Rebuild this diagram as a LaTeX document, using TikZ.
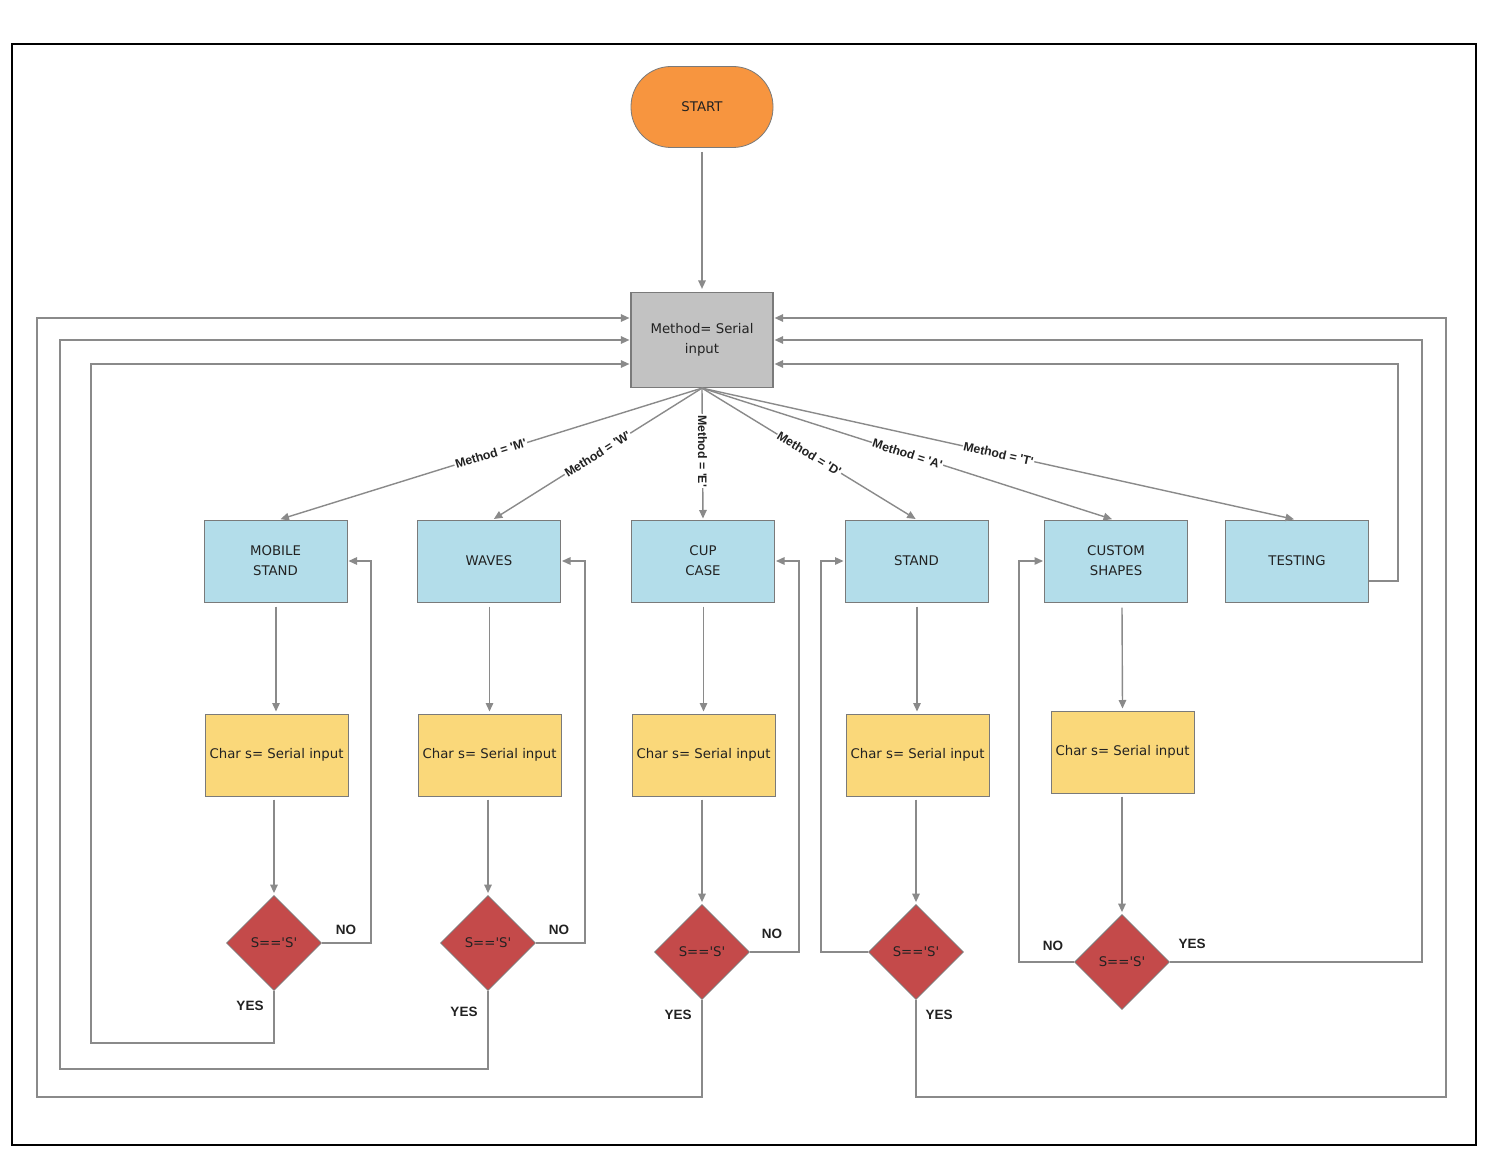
\documentclass[tikz,border=0pt]{standalone}
\usepackage{fontspec}
\setmainfont{DejaVu Sans}
\newfontfamily\labfont{Liberation Sans}
\usetikzlibrary{arrows.meta,shapes.geometric,calc}
\definecolor{linegray}{HTML}{8A8A8A}
\definecolor{bordergray}{HTML}{7A7A7A}
\definecolor{startor}{HTML}{F7953F}
\definecolor{boxgray}{HTML}{C2C2C2}
\definecolor{boxblue}{HTML}{B3DDEA}
\definecolor{boxyel}{HTML}{FAD87A}
\definecolor{decred}{HTML}{C44A4A}
\definecolor{txt}{HTML}{222222}
\newcommand{\sq}{\textquotesingle}
\begin{document}
\begin{tikzpicture}[x=1pt,y=-1pt,
  every node/.style={text=txt, font=\fontsize{13.3}{20}\selectfont, align=center},
  conn/.style={draw=linegray, line width=1.4pt},
  arr/.style={conn, -{Triangle[length=8.5pt,width=7.5pt]}, shorten >=1pt},
  startbox/.style={draw=bordergray, line width=0.8pt, fill=startor, minimum width=142pt, minimum height=81pt, rounded corners=40pt},
  procbox/.style={draw=bordergray, line width=1.2pt, fill=boxgray, minimum width=142pt, minimum height=95pt},
  bluebox/.style={draw=bordergray, line width=1pt, fill=boxblue, minimum width=143pt, minimum height=82pt, inner sep=2pt},
  yelbox/.style={draw=bordergray, line width=1pt, fill=boxyel, minimum width=143pt, minimum height=82pt, inner sep=1pt},
  decbox/.style={diamond, aspect=1, draw=bordergray, line width=0.8pt, fill=decred, minimum width=95pt, minimum height=95pt, inner sep=0pt},
  mlab/.style={font=\labfont\bfseries\fontsize{12.3}{14}\selectfont, fill=white, inner sep=1pt, text=txt},
  yn/.style={font=\labfont\bfseries\fontsize{13.5}{15}\selectfont, text=txt, inner sep=0pt}
]
\useasboundingbox (0,0) rectangle (1512,1174);
\fill[white] (0,0) rectangle (1512,1174);
\draw[line width=1.8pt, black] (12,44) rectangle (1476,1145);

\node[startbox] (start) at (702,107) {START};
\node[procbox] (method) at (702,340) {Method= Serial\\input};

\node[bluebox] (mobile) at (275.5,561) {MOBILE\\STAND};
\node[bluebox] (waves) at (489,561) {WAVES};
\node[bluebox] (cup) at (703,561) {CUP\\CASE};
\node[bluebox] (stand) at (916.5,561) {STAND};
\node[bluebox] (custom) at (1116,561) {CUSTOM\\SHAPES};
\node[bluebox] (testing) at (1297,561) {TESTING};

\node[yelbox] (c1) at (276.5,755) {Char s= Serial input};
\node[yelbox] (c2) at (489.5,755) {Char s= Serial input};
\node[yelbox] (c3) at (703.5,755) {Char s= Serial input};
\node[yelbox] (c4) at (917.5,755) {Char s= Serial input};
\node[yelbox] (c5) at (1122.5,752) {Char s= Serial input};

\node[decbox] (d1) at (274,943) {S==\sq S\sq};
\node[decbox] (d2) at (488,943) {S==\sq S\sq};
\node[decbox] (d3) at (702,952) {S==\sq S\sq};
\node[decbox] (d4) at (916,952) {S==\sq S\sq};
\node[decbox] (d5) at (1122,962) {S==\sq S\sq};

\coordinate (mL1) at ($(method.west)+(0,-22)$);
\coordinate (mL2) at (method.west);
\coordinate (mL3) at ($(method.west)+(0,24)$);
\coordinate (mR1) at ($(method.east)+(0,-22)$);
\coordinate (mR2) at (method.east);
\coordinate (mR3) at ($(method.east)+(0,24)$);

% start to method
\draw[arr] ($(start.south)+(0,4)$) -- ($(method.north)+(0,-2)$);

% fan
\draw[arr] (method.south) -- ($(mobile.north)+(4,0)$) node[mlab, midway, sloped] {Method = 'M'};
\draw[arr] (method.south) -- ($(waves.north)+(4,0)$) node[mlab, midway, sloped] {Method = 'W'};
\draw[arr] (method.south) -- (cup.north) node[mlab, pos=0.48, rotate=-90] {Method = 'E'};
\draw[arr] (method.south) -- (stand.north) node[mlab, midway, sloped] {Method = 'D'};
\draw[arr] (method.south) -- ($(custom.north)+(-3,0)$) node[mlab, midway, sloped] {Method = 'A'};
\draw[arr] (method.south) -- ($(testing.north)+(-2,0)$) node[mlab, midway, sloped] {Method = 'T'};

% blue to yellow
\foreach \b/\c in {mobile/c1, waves/c2, cup/c3, stand/c4} {
  \draw[arr] ($(\b.south)+(0.5,4)$) -- ($(\c.north -| \b.south)+(0.5,-1)$);
}
\draw[arr] ($(custom.south)+(6,5)$) -- ($(c5.north)+(0,-1)$);

% yellow to diamond
\foreach \c/\d in {c1/d1, c2/d2, c3/d3, c4/d4, c5/d5} {
  \draw[arr] ($(\c.south -| \d.north)+(0,3)$) -- ($(\d.north)+(0,-1)$);
}

% NO loops
\draw[arr] (d1.east) -- ++(49,0) |- (mobile.east);
\draw[arr] (d2.east) -- ++(49,0) |- (waves.east);
\draw[arr] (d3.east) -- ++(49,0) |- (cup.east);
\draw[arr] (d4.west) -- ++(-47,0) |- (stand.west);
\draw[arr] (d5.west) -- ++(-55,0) |- (custom.west);

\node[yn] (no1) at (346,930) {NO};
\node[yn] (no2) at (559,930) {NO};
\node[yn] (no3) at (772,934) {NO};
\node[yn] (no5) at (1053,946) {NO};

% YES paths
\draw[arr] (d1.south) |- (91,1043) |- (mL3);
\draw[arr] (d2.south) |- (60,1069) |- (mL2);
\draw[arr] (d3.south) |- (37,1097) |- (mL1);
\draw[arr] (d4.south) |- (1446,1097) |- (mR1);
\draw[arr] (d5.east) -- (1422,962) |- (mR2);
\draw[arr] ($(testing.east)+(0,20)$) -- (1398,581) |- (mR3);

\node[yn] (yes1) at (250,1006) {YES};
\node[yn] (yes2) at (464,1012) {YES};
\node[yn] (yes3) at (678,1015) {YES};
\node[yn] (yes4) at (939,1015) {YES};
\node[yn] (yes5) at (1192,944) {YES};
\end{tikzpicture}
\end{document}
